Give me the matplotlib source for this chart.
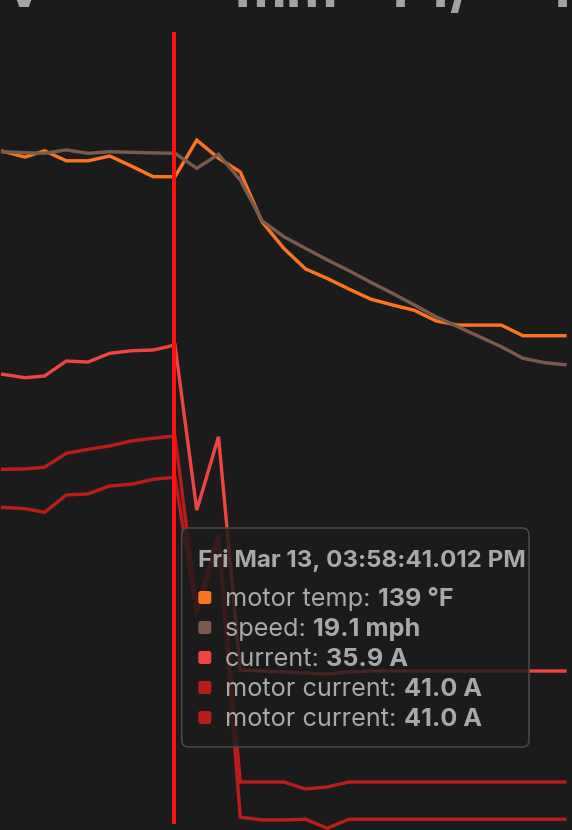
import matplotlib
matplotlib.use("Agg")
import matplotlib.pyplot as plt
from matplotlib.patches import FancyBboxPatch

plt.rcParams['font.family'] = ['Inter', 'DejaVu Sans']

# ---- data (time in seconds from first visible sample) ----
t = [0, 1.1, 2, 3, 4, 5, 6, 7, 8, 9, 10, 11, 12, 13, 14, 15, 16, 17, 18, 19,
     20, 21, 22, 23, 24, 25, 26]
motor_temp = [143.9, 142.7, 143.9, 142.0, 142.0, 142.9, 141.0, 139.0, 139.0, 145.9,
              142.5, 139.9, 130.5, 125.5, 121.6, 119.8, 117.8, 115.9, 114.8, 113.8,
              111.8, 111.0, 111.0, 111.0, 109.0, 109.0, 109.0]
speed = [19.18, 19.13, 19.10, 19.27, 19.10, 19.18, 19.15, 19.12, 19.10, 18.35,
         19.05, 17.77, 15.73, 14.93, 14.35, 13.77, 13.23, 12.65, 12.10, 11.52,
         10.93, 10.43, 9.93, 9.43, 8.85, 8.63, 8.52]
current = [32.71, 32.30, 32.49, 34.14, 34.03, 34.99, 35.27, 35.35, 35.9, 17.73,
           25.80, 0.11, 0.0, -0.11, -0.22, -0.33, -0.11, 0.0, 0.0, 0.0,
           0.0, 0.0, 0.0, 0.0, 0.0, 0.0, 0.0]
motor_current_1 = [37.05, 37.09, 37.29, 38.95, 39.42, 39.82, 40.41, 40.73, 41.0, 20.62,
                   29.27, 0.0, 0.0, 0.0, -0.83, -0.59, 0.0, 0.0, 0.0, 0.0,
                   0.0, 0.0, 0.0, 0.0, 0.0, 0.0, 0.0]
motor_current_2 = [37.40, 37.24, 36.80, 38.88, 39.0, 39.96, 40.16, 40.76, 41.0, 24.61,
                   33.48, 0.24, -0.08, -0.08, 0.0, -1.08, 0.0, 0.0, 0.0, 0.0,
                   0.0, 0.0, 0.0, 0.0, 0.0, 0.0, 0.0]
series_labels = ["motor temp", "speed", "current", "motor current", "motor current"]
series_units = ["°F", "mph", "A", "A", "A"]
series_fmt = ["{:.0f}", "{:.1f}", "{:.1f}", "{:.1f}", "{:.1f}"]
cursor_index = 8
tooltip_title = "Fri Mar 13, 03:58:41.012 PM"
header_pieces = ["v", "mm", "1", "1", "/", "1"]

# ---- styling ----
BG = "#1b1b1b"
colors = ["#fb7521", "#7a5a4e", "#ef4444", "#b91c1c", "#b91c1c"]
ylims = [(15.74, 172.34), (-14.735, 26.765), (-17.51, 73.90), (-5.69, 92.66), (-1.29, 98.22)]
W, H = 572, 830
xlim = (-1 / 21.75, (W - 1) / 21.75)
lw = 3.4 * 72 / 100

fig = plt.figure(figsize=(W / 100, H / 100), dpi=100, facecolor=BG)
series = [motor_temp, speed, current, motor_current_1, motor_current_2]
axes = []
for i, (vals, col, yl) in enumerate(zip(series, colors, ylims)):
    ax = fig.add_axes([0, 0, 1, 1], label=f"s{i}")
    ax.set_facecolor(BG if i == 0 else "none")
    ax.plot(t, vals, color=col, lw=lw, solid_joinstyle="miter", solid_capstyle="butt")
    ax.set_xlim(*xlim)
    ax.set_ylim(*yl)
    ax.set_axis_off()
    axes.append(ax)

# cursor line
axes[-1].axvline(t[cursor_index] - 0.04, ymin=(H - 822) / H, ymax=(H - 34) / H,
                 color="#ff1111", lw=4 * 72 / 100, zorder=5)

# ---- UI overlay (pixel coordinates) ----
ui = fig.add_axes([0, 0, 1, 1], label="ui")
ui.set_xlim(0, W)
ui.set_ylim(H, 0)
ui.set_axis_off()
ui.patch.set_visible(False)

TXT = "#a8a8a8"
# clipped header text at the very top
header_x = [23, 286, 395.5, 436, 460, 558]
for s, x in zip(header_pieces, header_x):
    ui.text(x, 7, s, ha="center", va="baseline", fontsize=41, fontweight="bold",
            color="#a3a3a3", clip_on=False)

box = FancyBboxPatch((181.7, 528), 529 - 181.7, 747 - 528,
                     boxstyle="round,pad=0,rounding_size=7",
                     facecolor=(0.106, 0.106, 0.106, 0.8), edgecolor="#484848",
                     lw=1.6 * 72 / 100, zorder=10)
ui.add_patch(box)

ui.text(197.5, 567, tooltip_title, ha="left", va="baseline", fontsize=17.4,
        fontweight="bold", color=TXT, zorder=11)

fig.canvas.draw()
renderer = fig.canvas.get_renderer()
row_y = [597.5, 627.5, 657.5, 687.5, 717.5]
for i in range(5):
    y = row_y[i]
    sq = FancyBboxPatch((198.3, y - 6.5), 13, 13, boxstyle="round,pad=0,rounding_size=2.5",
                        facecolor=colors[i], edgecolor="none", zorder=11)
    ui.add_patch(sq)
    lab = ui.text(225, y + 8, series_labels[i] + ": ", ha="left", va="baseline",
                  fontsize=18.2, color=TXT, zorder=11)
    bb = lab.get_window_extent(renderer=renderer)
    val = series_fmt[i].format(series[i][cursor_index]) + " " + series_units[i]
    ui.text(bb.x1, y + 8, val, ha="left", va="baseline", fontsize=18.2,
            fontweight="bold", color=TXT, zorder=11)

fig.savefig("out.png", dpi=100, facecolor=BG)
